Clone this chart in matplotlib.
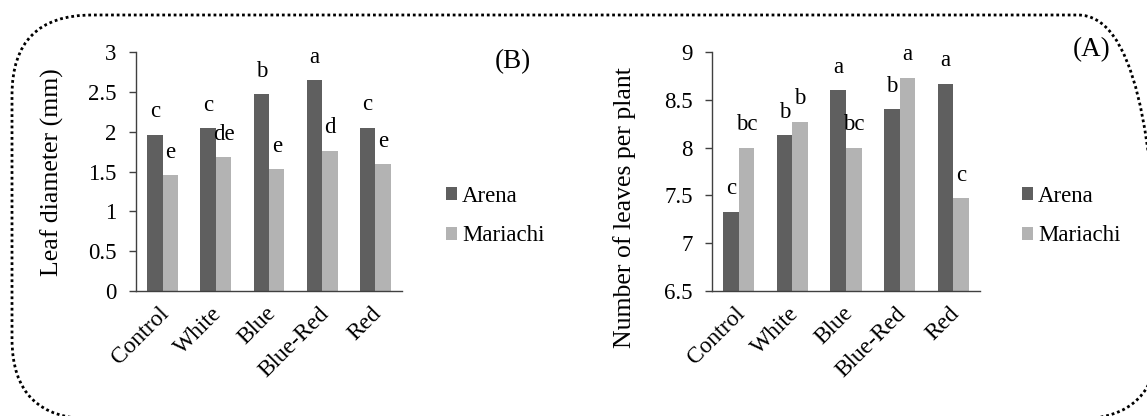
import matplotlib.pyplot as plt
import numpy as np
from matplotlib.patches import FancyBboxPatch

# Data
treatments = ['Control', 'White', 'Blue', 'Blue-Red', 'Red']
cultivars = ['Arena', 'Mariachi']

diam_arena = [1.96, 2.04, 2.47, 2.65, 2.05]
diam_mariachi = [1.45, 1.68, 1.53, 1.76, 1.59]
diam_arena_lbl = ['c', 'c', 'b', 'a', 'c']
diam_mariachi_lbl = ['e', 'de', 'e', 'd', 'e']

leaves_arena = [7.33, 8.13, 8.60, 8.40, 8.67]
leaves_mariachi = [8.00, 8.27, 8.00, 8.73, 7.47]
leaves_arena_lbl = ['c', 'b', 'a', 'b', 'a']
leaves_mariachi_lbl = ['bc', 'b', 'bc', 'a', 'c']

plt.rcParams['font.family'] = ['Liberation Serif', 'DejaVu Serif']

W, H = 1147, 416
dark = '#5f5f5f'
light = '#b3b3b3'

fig = plt.figure(figsize=(W / 100, H / 100), dpi=100)


def px(x0, y0, x1, y1):
    # image pixel box -> figure fraction rect
    return [x0 / W, 1 - y1 / H, (x1 - x0) / W, (y1 - y0) / H]


def panel(rect, a, m, la, lm, ylim, yticks, ylabel, ylab_xy, tag, tag_xy, leg_xy):
    ax = fig.add_axes(rect)
    x = np.arange(len(treatments))
    w = 0.29
    b1 = ax.bar(x - w / 2, np.array(a) - ylim[0], w, bottom=ylim[0], color=dark, label=cultivars[0])
    b2 = ax.bar(x + w / 2, np.array(m) - ylim[0], w, bottom=ylim[0], color=light, label=cultivars[1])
    for xi, v, t in zip(x - w / 2, a, la):
        ax.annotate(t, (xi, v), xytext=(0, 12.5), textcoords='offset points',
                    ha='center', va='baseline', fontsize=16.5)
    for xi, v, t in zip(x + w / 2, m, lm):
        ax.annotate(t, (xi, v), xytext=(0, 12.5), textcoords='offset points',
                    ha='center', va='baseline', fontsize=16.5)
    ax.set_xlim(-0.5, len(treatments) - 0.5)
    ax.set_ylim(*ylim)
    ax.set_yticks(yticks)
    ax.set_yticklabels([f'{t:g}' for t in yticks])
    ax.set_xticks(x + 0.06)
    ax.set_xticklabels(treatments, rotation=45, ha='right', va='center',
                       rotation_mode='anchor')
    ax.tick_params(axis='y', direction='out', length=5, width=1, pad=9,
                   labelsize=16.5, color='#404040')
    ax.tick_params(axis='x', length=0, pad=14, labelsize=16.8)
    for s in ['top', 'right']:
        ax.spines[s].set_visible(False)
    for s in ['left', 'bottom']:
        ax.spines[s].set_color('#404040')
        ax.spines[s].set_linewidth(1)
    fig.text(ylab_xy[0] / W, 1 - ylab_xy[1] / H, ylabel, rotation=90,
             ha='center', va='center', fontsize=18.5)
    fig.text(tag_xy[0] / W, 1 - tag_xy[1] / H, tag, ha='center', va='center', fontsize=19.5)
    fig.legend(handles=[b1, b2], loc='center left',
               bbox_to_anchor=(leg_xy[0] / W, 1 - leg_xy[1] / H),
               frameon=False, fontsize=16.5, handlelength=0.5, handleheight=0.5,
               handletextpad=0.2, labelspacing=0.8, borderpad=0, borderaxespad=0)
    return ax


panel(px(136, 52, 402, 291), diam_arena, diam_mariachi, diam_arena_lbl, diam_mariachi_lbl,
      (0, 3), [0, 0.5, 1, 1.5, 2, 2.5, 3], 'Leaf diameter (mm)', (52, 172),
      '(B)', (513, 62), (446, 216))
panel(px(712, 52, 980, 291), leaves_arena, leaves_mariachi, leaves_arena_lbl, leaves_mariachi_lbl,
      (6.5, 9), [6.5, 7, 7.5, 8, 8.5, 9], 'Number of leaves per plant', (625, 208),
      '(A)', (1092, 50), (1022, 216))

# dotted rounded frame (extends past right and bottom edges)
r = 80
frame = FancyBboxPatch((12 / W, 1 - 419 / H), (1158 - 12) / W, (419 - 15) / H,
                       boxstyle=f'round,pad=0,rounding_size={r / W}',
                       transform=fig.transFigure, fill=False, edgecolor='black',
                       linewidth=2.0, linestyle=(0, (1, 1.05)), clip_on=False,
                       mutation_aspect=W / H)
fig.patches.append(frame)

fig.savefig('out.png', dpi=100)
